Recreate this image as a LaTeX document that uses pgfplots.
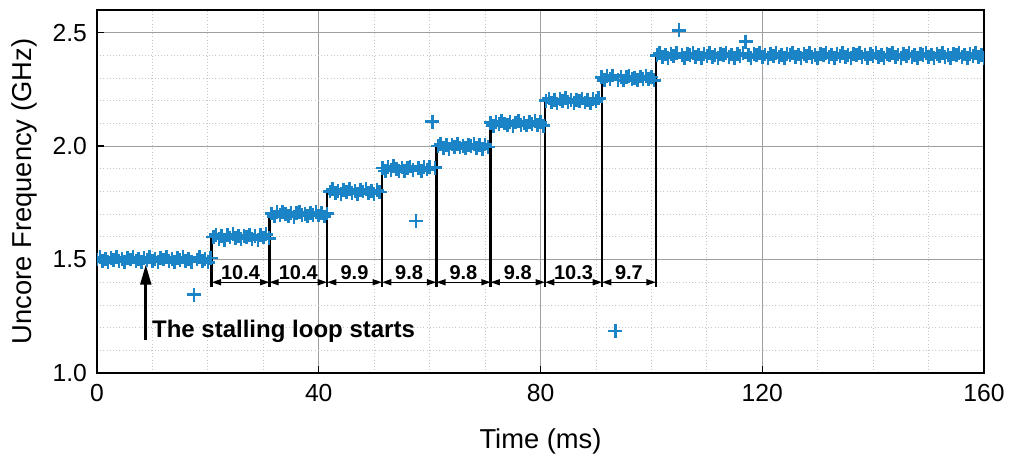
\documentclass[border=0pt]{standalone}
\usepackage{pgfplots}
\pgfplotsset{compat=1.18}
\usepackage{fontspec}
\setmainfont{Liberation Sans}
\usetikzlibrary{calc,arrows.meta}
\definecolor{freqblue}{RGB}{26,132,198}
\begin{document}
\begin{tikzpicture}
\begin{axis}[
  scale only axis,
  width=665.25pt, height=272.25pt,
  xmin=0, xmax=160, ymin=1.0, ymax=2.6,
  xtick={0,40,80,120,160},
  ytick={1.0,1.5,2.0,2.5},
  minor x tick num=3,
  minor y tick num=4,
  grid=both,
  major grid style={gray!75, line width=0.6pt},
  minor grid style={gray!45, dotted, line width=0.6pt},
  minor tick length=0pt,
  major tick length=5pt,
  tick pos=left,
  tick style={black, line width=1pt},
  axis line style={black, line width=1.3pt},
  /pgf/number format/assume math mode=true,
  yticklabel style={/pgf/number format/fixed, /pgf/number format/fixed zerofill, /pgf/number format/precision=1, xshift=-4pt},
  xticklabel style={yshift=-5pt},
  ticklabel style={font=\fontsize{18.5}{22}\selectfont},
  label style={font=\fontsize{20.5}{24}\selectfont},
  xlabel={Time (ms)},
  ylabel={Uncore Frequency (GHz)},
  xlabel style={yshift=-13pt},
  ylabel style={yshift=5pt},
  clip marker paths=true,
]
% step boundaries
\foreach \xb/\lv in {20.7/1.6, 31.1/1.7, 41.5/1.8, 51.4/1.9, 61.2/2.0, 71.0/2.1, 80.8/2.2, 91.1/2.3, 100.8/2.4}{
  \edef\tmp{\noexpand\draw[black, line width=1.9pt] (axis cs:\xb,1.38) -- (axis cs:\xb,\lv);}\tmp
}
% interval arrows
\foreach \xa/\xb/\lab in {20.7/31.1/10.4, 31.1/41.5/10.4, 41.5/51.4/9.9, 51.4/61.2/9.8, 61.2/71.0/9.8, 71.0/80.8/9.8, 80.8/91.1/10.3, 91.1/100.8/9.7}{
  \edef\tmp{\noexpand\draw[black, line width=1.1pt, {Triangle[length=7pt,width=4.5pt]}-{Triangle[length=7pt,width=4.5pt]}] (axis cs:\xa,1.40) -- (axis cs:\xb,1.40);
  \noexpand\node[font=\noexpand\fontsize{15}{17}\noexpand\selectfont\noexpand\bfseries, inner sep=0pt] at (axis cs:{(\xa+\xb)/2},1.442) {\lab};}\tmp
}
\draw[black, line width=2pt, -{Triangle[length=15pt,width=8pt]}] (axis cs:8.8,1.146) -- (axis cs:8.8,1.478);
\node[anchor=west, inner sep=0pt, font=\fontsize{18}{21}\selectfont\bfseries] at (axis cs:9.9,1.185) {The stalling loop starts};
\addplot[only marks, mark=+, mark size=5.2pt, mark options={line width=1.9pt, freqblue}, color=freqblue] coordinates {
(0,1.500) (0.5,1.510) (1,1.492) (1.5,1.504) (2,1.488) (2.5,1.507) (3,1.497) (3.5,1.511) (4,1.494) (4.5,1.502) (5,1.490) (5.5,1.505)
(6,1.500) (6.5,1.510) (7,1.492) (7.5,1.504) (8,1.488) (8.5,1.507) (9,1.497) (9.5,1.511) (10,1.494) (10.5,1.502) (11,1.490) (11.5,1.505)
(12,1.500) (12.5,1.510) (13,1.492) (13.5,1.504) (14,1.488) (14.5,1.507) (15,1.497) (15.5,1.511) (16,1.494) (16.5,1.502) (17,1.490) (17.5,1.345)
(18,1.500) (18.5,1.510) (19,1.492) (19.5,1.504) (20,1.488) (20.5,1.507)
(21,1.600) (21.5,1.610) (22,1.592) (22.5,1.604) (23,1.588) (23.5,1.607) (24,1.597) (24.5,1.611) (25,1.594) (25.5,1.602) (26,1.590) (26.5,1.605)
(27,1.600) (27.5,1.610) (28,1.592) (28.5,1.604) (29,1.588) (29.5,1.607) (30,1.597) (30.5,1.611) (31,1.594)
(31.5,1.703) (32,1.690) (32.5,1.708) (33,1.696) (33.5,1.711) (34,1.700) (34.5,1.692) (35,1.706) (35.5,1.689) (36,1.704) (36.5,1.710) (37,1.695)
(37.5,1.702) (38,1.691) (38.5,1.707) (39,1.697) (39.5,1.709) (40,1.694) (40.5,1.705) (41,1.690) (41.5,1.703)
(42,1.800) (42.5,1.810) (43,1.792) (43.5,1.804) (44,1.788) (44.5,1.807) (45,1.797) (45.5,1.811) (46,1.794) (46.5,1.802) (47,1.790) (47.5,1.805)
(48,1.800) (48.5,1.810) (49,1.792) (49.5,1.804) (50,1.788) (50.5,1.807) (51,1.797)
(51.5,1.903) (52,1.890) (52.5,1.908) (53,1.896) (53.5,1.911) (54,1.900) (54.5,1.892) (55,1.906) (55.5,1.889) (56,1.904) (56.5,1.910) (57,1.895)
(57.5,1.670) (58,1.902) (58.5,1.891) (59,1.907) (59.5,1.897) (60,1.909) (60.5,2.108) (61,1.905)
(61.5,2.000) (62,2.010) (62.5,1.992) (63,2.004) (63.5,1.988) (64,2.007) (64.5,1.997) (65,2.011) (65.5,1.994) (66,2.002) (66.5,1.990) (67,2.005)
(67.5,2.000) (68,2.010) (68.5,1.992) (69,2.004) (69.5,1.988) (70,2.007) (70.5,1.997)
(71,2.103) (71.5,2.090) (72,2.108) (72.5,2.096) (73,2.111) (73.5,2.100) (74,2.092) (74.5,2.106) (75,2.089) (75.5,2.104) (76,2.110) (76.5,2.095)
(77,2.102) (77.5,2.091) (78,2.107) (78.5,2.097) (79,2.109) (79.5,2.094) (80,2.105) (80.5,2.090)
(81,2.200) (81.5,2.210) (82,2.192) (82.5,2.204) (83,2.188) (83.5,2.207) (84,2.197) (84.5,2.211) (85,2.194) (85.5,2.202) (86,2.190) (86.5,2.205)
(87,2.200) (87.5,2.210) (88,2.192) (88.5,2.204) (89,2.188) (89.5,2.207) (90,2.197) (90.5,2.211)
(91,2.303) (91.5,2.290) (92,2.308) (92.5,2.296) (93,2.311) (93.5,1.185) (94,2.292) (94.5,2.306) (95,2.289) (95.5,2.304) (96,2.310) (96.5,2.295)
(97,2.302) (97.5,2.291) (98,2.307) (98.5,2.297) (99,2.309) (99.5,2.294) (100,2.305) (100.5,2.290)
(101,2.400) (101.5,2.410) (102,2.392) (102.5,2.404) (103,2.388) (103.5,2.407) (104,2.397) (104.5,2.411) (105,2.510) (105.5,2.402) (106,2.390) (106.5,2.405)
(107,2.400) (107.5,2.410) (108,2.392) (108.5,2.404) (109,2.388) (109.5,2.407) (110,2.397) (110.5,2.411) (111,2.394) (111.5,2.402) (112,2.390) (112.5,2.405)
(113,2.400) (113.5,2.410) (114,2.392) (114.5,2.404) (115,2.388) (115.5,2.407) (116,2.397) (116.5,2.411) (117,2.460) (117.5,2.402) (118,2.390) (118.5,2.405)
(119,2.400) (119.5,2.410) (120,2.392) (120.5,2.404) (121,2.388) (121.5,2.407) (122,2.397) (122.5,2.411) (123,2.394) (123.5,2.402) (124,2.390) (124.5,2.405)
(125,2.400) (125.5,2.410) (126,2.392) (126.5,2.404) (127,2.388) (127.5,2.407) (128,2.397) (128.5,2.411) (129,2.394) (129.5,2.402) (130,2.390) (130.5,2.405)
(131,2.400) (131.5,2.410) (132,2.392) (132.5,2.404) (133,2.388) (133.5,2.407) (134,2.397) (134.5,2.411) (135,2.394) (135.5,2.402) (136,2.390) (136.5,2.405)
(137,2.400) (137.5,2.410) (138,2.392) (138.5,2.404) (139,2.388) (139.5,2.407) (140,2.397) (140.5,2.411) (141,2.394) (141.5,2.402) (142,2.390) (142.5,2.405)
(143,2.400) (143.5,2.410) (144,2.392) (144.5,2.404) (145,2.388) (145.5,2.407) (146,2.397) (146.5,2.411) (147,2.394) (147.5,2.402) (148,2.390) (148.5,2.405)
(149,2.400) (149.5,2.410) (150,2.392) (150.5,2.404) (151,2.388) (151.5,2.407) (152,2.397) (152.5,2.411) (153,2.394) (153.5,2.402) (154,2.390) (154.5,2.405)
(155,2.400) (155.5,2.410) (156,2.392) (156.5,2.404) (157,2.388) (157.5,2.407) (158,2.397) (158.5,2.411) (159,2.394) (159.5,2.402) (160,2.390)
};
\end{axis}
\pgfresetboundingbox
\path ($(current axis.south west)+(-72.75pt,-62.25pt)$) rectangle ($(current axis.north east)+(19.5pt,7.5pt)$);
\end{tikzpicture}
\end{document}
